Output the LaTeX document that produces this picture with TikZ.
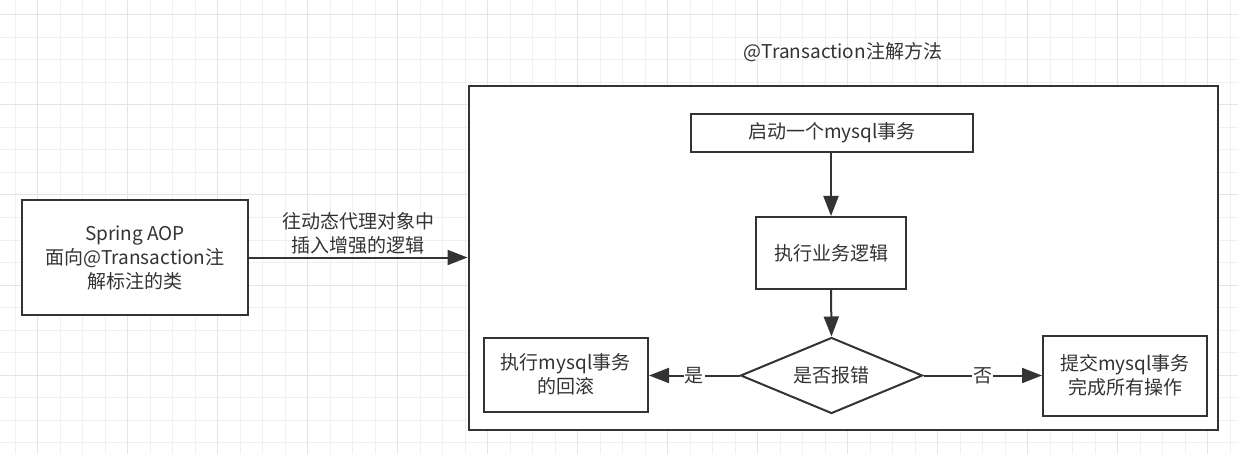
\documentclass[tikz,border=0pt]{standalone}
\usepackage{fontspec}
\setmainfont{Noto Sans CJK SC}
\usetikzlibrary{arrows.meta,shapes.geometric}
\definecolor{ink}{HTML}{333333}
\definecolor{gridminor}{HTML}{F0F0F0}
\definecolor{gridmajor}{HTML}{E4E4E4}
\begin{document}
\begin{tikzpicture}[x=1pt,y=-1pt,
  font=\fontsize{19}{24}\selectfont,
  box/.style={draw=ink,line width=2pt,fill=white,rectangle,inner sep=0pt,align=center,text=ink},
  conn/.style={draw=ink,line width=2pt,-{Triangle[length=20pt,width=15pt]}},
  edgelbl/.style={fill=white,text=ink,inner sep=1pt}]
\useasboundingbox (0,0) rectangle (1238,454);
\fill[white] (0,0) rectangle (1238,454);
% grid
\foreach \i in {0,...,54} {
  \draw[gridminor,line width=1pt] ({15+22.5*\i},0) -- ({15+22.5*\i},454);
}
\foreach \i in {0,...,19} {
  \draw[gridminor,line width=1pt] (0,{15+22.5*\i}) -- (1238,{15+22.5*\i});
}
\foreach \i in {0,...,13} {
  \draw[gridmajor,line width=1pt] ({37.5+90*\i},0) -- ({37.5+90*\i},454);
}
\foreach \i in {0,...,4} {
  \draw[gridmajor,line width=1pt] (0,{15+90*\i}) -- (1238,{15+90*\i});
}
% title
\node[text=ink] (title) at (843,52) {@Transaction注解方法};
% container
\node[box,minimum width=749pt,minimum height=344pt] (cont) at (843,258) {};
% left box
\node[box,minimum width=226pt,minimum height=114pt] (aop) at (135,257.5) {Spring AOP\\面向@Transaction注\\解标注的类};
% inner boxes
\node[box,minimum width=282pt,minimum height=38pt] (start) at (832,133) {启动一个mysql事务};
\node[box,minimum width=150pt,minimum height=72pt] (biz) at (831,253) {执行业务逻辑};
\node[draw=ink,line width=2pt,fill=white,diamond,aspect=2.4,inner sep=0pt,minimum width=182pt,minimum height=76pt,text=ink] (err) at (831.5,375.5) {是否报错};
\node[box,minimum width=164.5pt,minimum height=73.5pt] (rb) at (565.75,374.75) {执行mysql事务\\的回滚};
\node[box,minimum width=164pt,minimum height=79.5pt] (commit) at (1125,375.75) {提交mysql事务\\完成所有操作};
% connectors
\draw[conn] (aop.east) -- node[midway,yshift=24pt,align=center,text=ink]{往动态代理对象中\\插入增强的逻辑} (aop.east -| cont.west);
\draw[conn] (start.south -| biz.north) -- (biz.north);
\draw[conn] (biz.south) -- (err.north);
\draw[conn] (err.west) -- node[midway,edgelbl]{是} (rb.east |- err.west);
\draw[conn] (err.east) -- node[midway,edgelbl]{否} (commit.west |- err.east);
\end{tikzpicture}
\end{document}
